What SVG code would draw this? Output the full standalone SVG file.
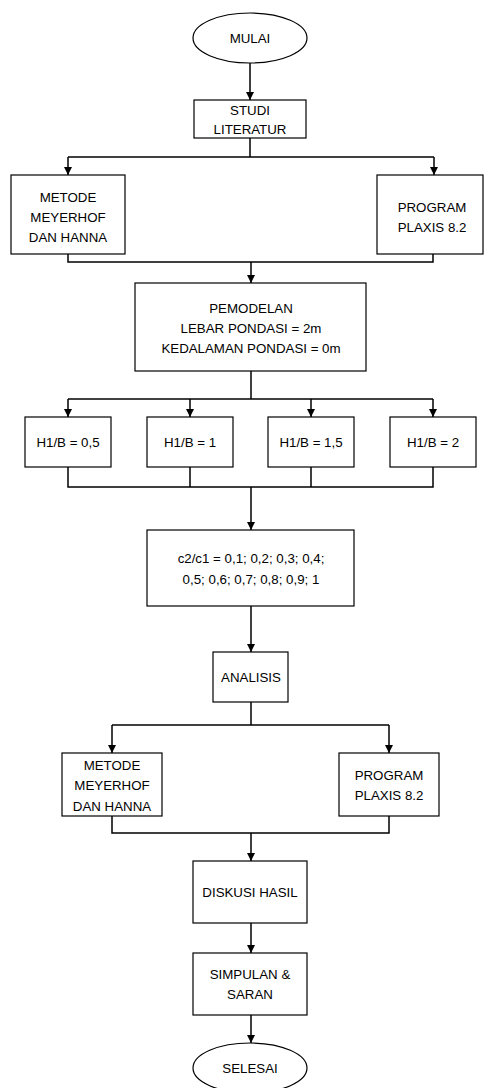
<svg xmlns="http://www.w3.org/2000/svg" width="484" height="1088" viewBox="0 0 484 1088">
<style>
.box{fill:#fff;stroke:#000;stroke-width:1.2}
.ln{fill:none;stroke:#000;stroke-width:1.5}
.t{font-family:"Liberation Sans",Arial,sans-serif;font-size:13.3px;fill:#000;text-anchor:middle}
</style>
<defs>
<marker id="ah" viewBox="0 0 10 10" refX="10" refY="5" markerWidth="8" markerHeight="8" markerUnits="userSpaceOnUse" orient="auto">
<path d="M0,0 L10,5 L0,10 z" fill="#000"/>
</marker>
</defs>
<rect width="484" height="1088" fill="#fff"/>
<g id="connectors">
<path class="ln" d="M250,63 V100" marker-end="url(#ah)"/>
<path class="ln" d="M250,138 V157"/>
<path class="ln" d="M68,157 H434"/>
<path class="ln" d="M68,157 V175" marker-end="url(#ah)"/>
<path class="ln" d="M434,157 V175" marker-end="url(#ah)"/>
<path class="ln" d="M68,254 V262 H433 V254"/>
<path class="ln" d="M251,262 V283" marker-end="url(#ah)"/>
<path class="ln" d="M251,371 V399"/>
<path class="ln" d="M68,399 H433"/>
<path class="ln" d="M68,399 V417" marker-end="url(#ah)"/>
<path class="ln" d="M190,399 V417" marker-end="url(#ah)"/>
<path class="ln" d="M311,399 V417" marker-end="url(#ah)"/>
<path class="ln" d="M433,399 V417" marker-end="url(#ah)"/>
<path class="ln" d="M68,467 V487 H433 V467 M190,467 V487 M311,467 V487"/>
<path class="ln" d="M251,487 V530" marker-end="url(#ah)"/>
<path class="ln" d="M251,606 V652" marker-end="url(#ah)"/>
<path class="ln" d="M251,702 V725"/>
<path class="ln" d="M112,725 H389"/>
<path class="ln" d="M112,725 V753" marker-end="url(#ah)"/>
<path class="ln" d="M389,725 V753" marker-end="url(#ah)"/>
<path class="ln" d="M112,816 V833 H389 V816"/>
<path class="ln" d="M251,833 V861" marker-end="url(#ah)"/>
<path class="ln" d="M251,923 V953" marker-end="url(#ah)"/>
<path class="ln" d="M251,1015 V1043" marker-end="url(#ah)"/>
</g>
<g id="mulai">
<ellipse class="box" cx="250" cy="38" rx="57" ry="25"/>
<text class="t" x="250" y="43">MULAI</text>
</g>
<g id="studi">
<rect class="box" x="194" y="100" width="112" height="38"/>
<text class="t" x="250" y="115">STUDI</text>
<text class="t" x="250" y="134">LITERATUR</text>
</g>
<g id="metode1">
<rect class="box" x="11" y="175" width="114" height="79"/>
<text class="t" x="68" y="202">METODE</text>
<text class="t" x="68" y="222">MEYERHOF</text>
<text class="t" x="68" y="242">DAN HANNA</text>
</g>
<g id="plaxis1">
<rect class="box" x="377" y="175" width="106" height="79"/>
<text class="t" x="432" y="212">PROGRAM</text>
<text class="t" x="432" y="232">PLAXIS 8.2</text>
</g>
<g id="pemodelan">
<rect class="box" x="135" y="283" width="231" height="88"/>
<text class="t" x="251" y="313">PEMODELAN</text>
<text class="t" x="251" y="333">LEBAR PONDASI = 2m</text>
<text class="t" x="251" y="353">KEDALAMAN PONDASI = 0m</text>
</g>
<g id="h05">
<rect class="box" x="25" y="417" width="86" height="50"/>
<text class="t" x="68" y="447">H1/B = 0,5</text>
</g>
<g id="h1">
<rect class="box" x="147" y="417" width="86" height="50"/>
<text class="t" x="190" y="447">H1/B = 1</text>
</g>
<g id="h15">
<rect class="box" x="268" y="417" width="86" height="50"/>
<text class="t" x="311" y="447">H1/B = 1,5</text>
</g>
<g id="h2">
<rect class="box" x="390" y="417" width="86" height="50"/>
<text class="t" x="433" y="447">H1/B = 2</text>
</g>
<g id="c2c1">
<rect class="box" x="147" y="530" width="207" height="76"/>
<text class="t" x="251" y="563">c2/c1 = 0,1; 0,2; 0,3; 0,4;</text>
<text class="t" x="251" y="584">0,5; 0,6; 0,7; 0,8; 0,9; 1</text>
</g>
<g id="analisis">
<rect class="box" x="213" y="652" width="75" height="50"/>
<text class="t" x="251" y="682">ANALISIS</text>
</g>
<g id="metode2">
<rect class="box" x="62" y="753" width="100" height="63"/>
<text class="t" x="112" y="770">METODE</text>
<text class="t" x="112" y="790">MEYERHOF</text>
<text class="t" x="112" y="811">DAN HANNA</text>
</g>
<g id="plaxis2">
<rect class="box" x="339" y="753" width="100" height="63"/>
<text class="t" x="389" y="780">PROGRAM</text>
<text class="t" x="389" y="800">PLAXIS 8.2</text>
</g>
<g id="diskusi">
<rect class="box" x="193" y="861" width="114" height="62"/>
<text class="t" x="250" y="897">DISKUSI HASIL</text>
</g>
<g id="simpulan">
<rect class="box" x="193" y="953" width="114" height="62"/>
<text class="t" x="250" y="979">SIMPULAN &amp;</text>
<text class="t" x="250" y="999">SARAN</text>
</g>
<g id="selesai">
<ellipse class="box" cx="250" cy="1068" rx="57" ry="25"/>
<text class="t" x="250" y="1073">SELESAI</text>
</g>
</svg>
